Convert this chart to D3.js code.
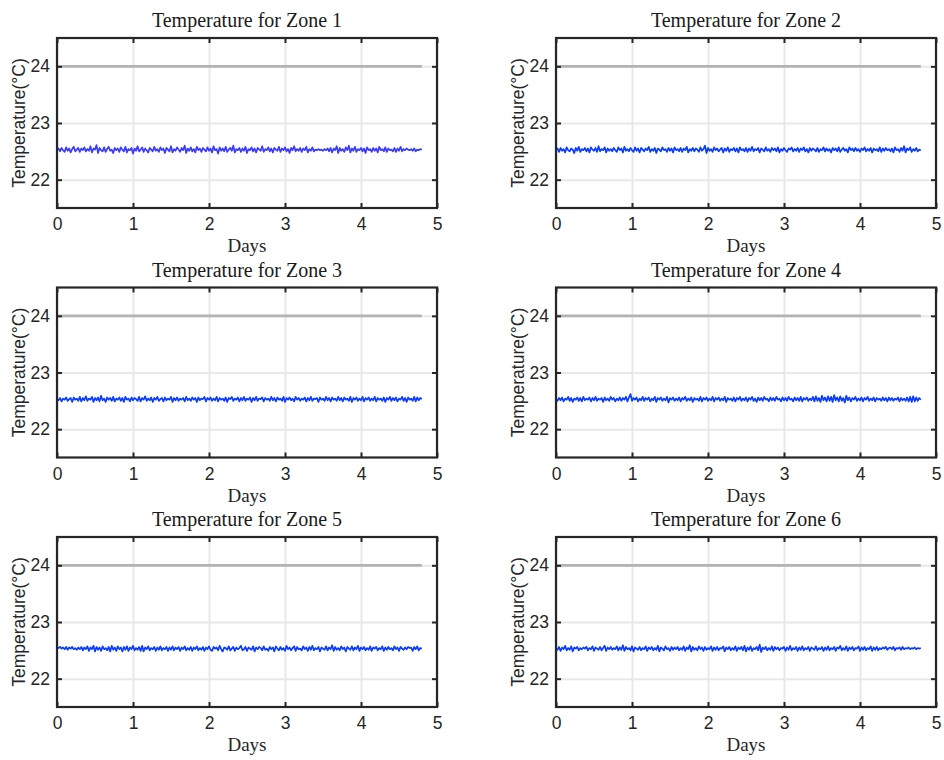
<!DOCTYPE html>
<html>
<head>
<meta charset="utf-8">
<script src="https://cdn.jsdelivr.net/npm/d3@7"></script>
<style>
html,body{margin:0;padding:0;background:#fff;}
svg{display:block;}
</style>
</head>
<body>
<svg id="chart" width="944" height="760"></svg>
<script>
// ---------- data ----------
const zoneNames = ["Zone 1","Zone 2","Zone 3","Zone 4","Zone 5","Zone 6"];
const xTicks = [0,1,2,3,4,5];
const yTicks = [22,23,24];
const setpoint = 24;
const dayStep = 0.02; // sampling interval (days) of the recorded series
const lastDay = 4.8;

const zone1 = [
22.53,22.55,22.50,22.56,22.52,22.49,22.57,22.51,22.55,22.48,22.54,22.58,22.50,22.53,22.56,22.49,22.55,22.52,22.57,22.50,
22.54,22.51,22.59,22.48,22.55,22.53,22.61,22.47,22.56,22.52,22.50,22.57,22.49,22.54,22.58,22.51,22.53,22.47,22.56,22.52,
22.55,22.49,22.57,22.53,22.50,22.58,22.48,22.54,22.52,22.56,22.46,22.55,22.51,22.59,22.50,22.53,22.57,22.49,22.55,22.52,
22.48,22.56,22.53,22.50,22.58,22.51,22.54,22.49,22.57,22.52,22.55,22.47,22.56,22.53,22.50,22.59,22.48,22.54,22.51,22.57,
22.53,22.49,22.56,22.52,22.60,22.47,22.55,22.51,22.57,22.50,22.54,22.48,22.58,22.52,22.55,22.49,22.56,22.53,22.50,22.57,
22.51,22.55,22.48,22.59,22.52,22.54,22.46,22.57,22.51,22.55,22.50,22.58,22.49,22.53,22.56,22.51,22.60,22.48,22.54,22.52,
22.56,22.49,22.55,22.51,22.58,22.47,22.54,22.52,22.57,22.50,22.55,22.48,22.56,22.53,22.51,22.59,22.49,22.54,22.52,22.57,
22.50,22.55,22.48,22.56,22.53,22.51,22.58,22.49,22.55,22.52,22.57,22.50,22.54,22.47,22.56,22.52,22.59,22.50,22.54,22.51,
22.56,22.49,22.55,22.52,22.58,22.48,22.54,22.51,22.57,22.50,22.53,22.52,22.54,22.52,22.53,22.51,22.54,22.52,22.55,22.50,
22.56,22.48,22.55,22.52,22.59,22.47,22.56,22.51,22.54,22.49,22.57,22.52,22.60,22.48,22.55,22.51,22.58,22.49,22.54,22.52,
22.56,22.50,22.55,22.47,22.57,22.52,22.54,22.49,22.56,22.51,22.55,22.48,22.58,22.52,22.54,22.50,22.57,22.49,22.55,22.52,
22.53,22.50,22.56,22.49,22.55,22.51,22.58,22.50,22.54,22.52,22.55,22.53,22.52,22.54,22.51,22.55,22.50,22.53,22.52,22.54,
22.53];

const zone2 = [
22.52,22.55,22.49,22.56,22.51,22.54,22.48,22.57,22.52,22.50,22.55,22.53,22.47,22.56,22.51,22.58,22.49,22.54,22.52,22.56,
22.50,22.55,22.48,22.57,22.53,22.51,22.56,22.49,22.59,22.50,22.54,22.52,22.57,22.48,22.55,22.51,22.54,22.50,22.56,22.52,
22.49,22.57,22.52,22.55,22.48,22.58,22.51,22.54,22.50,22.56,22.52,22.49,22.57,22.51,22.55,22.48,22.56,22.53,22.50,22.55,
22.52,22.58,22.49,22.54,22.51,22.56,22.47,22.55,22.53,22.50,22.57,22.52,22.54,22.49,22.56,22.51,22.55,22.48,22.57,22.52,
22.54,22.50,22.56,22.49,22.55,22.52,22.58,22.48,22.54,22.51,22.56,22.50,22.55,22.53,22.49,22.57,22.51,22.54,22.60,22.47,
22.56,22.51,22.54,22.49,22.57,22.52,22.55,22.50,22.53,22.56,22.48,22.55,22.51,22.57,22.49,22.54,22.52,22.56,22.50,22.55,
22.48,22.57,22.52,22.54,22.50,22.56,22.49,22.55,22.51,22.58,22.50,22.54,22.52,22.56,22.48,22.55,22.53,22.50,22.57,22.51,
22.54,22.49,22.56,22.52,22.55,22.50,22.57,22.48,22.54,22.51,22.56,22.52,22.49,22.55,22.53,22.57,22.50,22.54,22.51,22.56,
22.49,22.55,22.52,22.57,22.50,22.54,22.48,22.56,22.51,22.55,22.53,22.50,22.56,22.49,22.54,22.52,22.57,22.50,22.55,22.51,
22.54,22.48,22.56,22.52,22.55,22.50,22.57,22.49,22.53,22.56,22.51,22.54,22.48,22.57,22.52,22.55,22.50,22.56,22.51,22.54,
22.49,22.55,22.52,22.57,22.50,22.54,22.51,22.56,22.48,22.55,22.52,22.54,22.50,22.57,22.49,22.55,22.51,22.56,22.52,22.54,
22.50,22.55,22.48,22.57,22.52,22.54,22.49,22.56,22.51,22.59,22.48,22.55,22.52,22.57,22.49,22.54,22.51,22.56,22.50,22.53,
22.52];

const zone3 = [
22.53,22.51,22.55,22.49,22.54,22.52,22.56,22.50,22.53,22.55,22.48,22.56,22.52,22.54,22.50,22.57,22.49,22.55,22.51,22.58,
22.50,22.54,22.52,22.57,22.48,22.55,22.51,22.56,22.49,22.59,22.51,22.54,22.48,22.56,22.52,22.55,22.50,22.57,22.49,22.54,
22.52,22.56,22.50,22.55,22.48,22.57,22.52,22.54,22.49,22.56,22.51,22.55,22.53,22.50,22.57,22.49,22.55,22.52,22.58,22.50,
22.54,22.51,22.56,22.48,22.55,22.52,22.57,22.50,22.53,22.55,22.49,22.56,22.51,22.54,22.52,22.57,22.48,22.55,22.51,22.56,
22.50,22.54,22.52,22.55,22.49,22.57,22.51,22.54,22.50,22.56,22.52,22.55,22.48,22.56,22.51,22.54,22.53,22.57,22.49,22.55,
22.52,22.56,22.50,22.54,22.51,22.57,22.49,22.55,22.52,22.54,22.50,22.56,22.48,22.55,22.53,22.57,22.50,22.54,22.52,22.56,
22.49,22.55,22.51,22.57,22.50,22.54,22.52,22.56,22.48,22.55,22.51,22.57,22.50,22.54,22.53,22.56,22.49,22.55,22.52,22.54,
22.50,22.57,22.51,22.55,22.49,22.56,22.52,22.54,22.50,22.57,22.48,22.55,22.52,22.56,22.51,22.54,22.49,22.57,22.52,22.55,
22.50,22.54,22.52,22.56,22.49,22.55,22.51,22.57,22.50,22.54,22.53,22.55,22.48,22.56,22.52,22.54,22.50,22.57,22.51,22.55,
22.49,22.56,22.52,22.54,22.50,22.57,22.51,22.55,22.49,22.56,22.52,22.54,22.50,22.57,22.48,22.55,22.52,22.56,22.50,22.54,
22.51,22.57,22.49,22.55,22.52,22.56,22.50,22.54,22.51,22.57,22.49,22.55,22.52,22.54,22.50,22.56,22.48,22.55,22.52,22.57,
22.50,22.55,22.51,22.56,22.49,22.54,22.52,22.57,22.50,22.55,22.48,22.56,22.52,22.54,22.50,22.57,22.49,22.56,22.51,22.55,
22.53];

const zone4 = [
22.53,22.50,22.55,22.51,22.56,22.49,22.54,22.52,22.57,22.50,22.55,22.48,22.54,22.52,22.56,22.50,22.55,22.49,22.57,22.51,
22.54,22.52,22.56,22.49,22.55,22.51,22.57,22.50,22.54,22.52,22.55,22.48,22.56,22.51,22.54,22.50,22.57,22.52,22.55,22.49,
22.54,22.51,22.56,22.50,22.55,22.52,22.57,22.49,22.56,22.62,22.50,22.55,22.52,22.56,22.49,22.54,22.51,22.57,22.50,22.55,
22.52,22.56,22.49,22.54,22.51,22.57,22.48,22.55,22.52,22.56,22.50,22.54,22.51,22.57,22.47,22.55,22.52,22.56,22.50,22.54,
22.51,22.56,22.49,22.55,22.52,22.57,22.50,22.54,22.51,22.56,22.48,22.55,22.52,22.54,22.50,22.57,22.49,22.55,22.52,22.56,
22.50,22.54,22.51,22.57,22.49,22.55,22.52,22.56,22.50,22.54,22.51,22.57,22.48,22.55,22.52,22.54,22.50,22.56,22.49,22.55,
22.52,22.57,22.50,22.54,22.51,22.56,22.49,22.55,22.52,22.57,22.50,22.54,22.48,22.56,22.51,22.55,22.50,22.57,22.52,22.54,
22.49,22.56,22.51,22.55,22.50,22.57,22.52,22.54,22.49,22.56,22.51,22.55,22.50,22.57,22.52,22.54,22.49,22.56,22.51,22.55,
22.50,22.57,22.49,22.55,22.52,22.56,22.50,22.54,22.51,22.57,22.49,22.58,22.50,22.55,22.48,22.59,22.51,22.56,22.49,22.58,
22.50,22.57,22.48,22.60,22.51,22.56,22.49,22.58,22.50,22.55,22.47,22.59,22.51,22.56,22.49,22.55,22.52,22.57,22.50,22.54,
22.51,22.56,22.49,22.55,22.52,22.57,22.50,22.54,22.51,22.56,22.49,22.55,22.52,22.54,22.50,22.56,22.51,22.55,22.49,22.56,
22.51,22.55,22.50,22.54,22.52,22.56,22.49,22.55,22.51,22.54,22.50,22.56,22.49,22.57,22.48,22.58,22.49,22.56,22.50,22.55,
22.52];

const zone5 = [
22.55,22.54,22.56,22.53,22.55,22.52,22.56,22.51,22.55,22.53,22.56,22.52,22.54,22.51,22.55,22.52,22.56,22.50,22.55,22.52,
22.57,22.49,22.55,22.52,22.58,22.48,22.56,22.51,22.55,22.49,22.57,22.52,22.54,22.50,22.56,22.48,22.58,22.51,22.55,22.49,
22.57,22.52,22.55,22.48,22.56,22.51,22.57,22.49,22.55,22.52,22.58,22.50,22.54,22.51,22.56,22.49,22.58,22.48,22.55,22.52,
22.57,22.50,22.54,22.52,22.56,22.49,22.55,22.51,22.57,22.50,22.54,22.52,22.56,22.49,22.55,22.51,22.57,22.50,22.55,22.52,
22.56,22.49,22.55,22.52,22.57,22.50,22.54,22.51,22.56,22.49,22.55,22.52,22.57,22.50,22.54,22.51,22.56,22.49,22.55,22.52,
22.57,22.51,22.49,22.56,22.53,22.55,22.50,22.58,22.52,22.48,22.55,22.54,22.51,22.57,22.50,22.53,22.56,22.49,22.55,22.52,
22.54,22.58,22.50,22.52,22.56,22.49,22.55,22.53,22.51,22.57,22.48,22.55,22.52,22.56,22.54,22.50,22.57,22.51,22.53,22.49,
22.56,22.52,22.55,22.48,22.57,22.53,22.50,22.56,22.51,22.54,22.49,22.58,22.52,22.55,22.50,22.54,22.57,22.49,22.56,22.52,
22.53,22.50,22.57,22.52,22.55,22.49,22.56,22.51,22.58,22.50,22.54,22.52,22.56,22.48,22.55,22.53,22.51,22.57,22.50,22.55,
22.52,22.59,22.49,22.56,22.51,22.54,22.50,22.57,22.52,22.55,22.48,22.56,22.53,22.51,22.57,22.50,22.55,22.52,22.58,22.49,
22.55,22.52,22.56,22.50,22.54,22.51,22.57,22.49,22.55,22.53,22.56,22.50,22.54,22.52,22.57,22.49,22.55,22.51,22.56,22.52,
22.54,22.50,22.57,22.52,22.55,22.49,22.56,22.53,22.51,22.55,22.52,22.56,22.54,22.55,22.49,22.56,22.52,22.57,22.50,22.54,
22.53];

const zone6 = [
22.53,22.51,22.56,22.49,22.55,22.52,22.58,22.50,22.54,22.51,22.57,22.48,22.55,22.53,22.56,22.50,22.54,22.52,22.55,22.53,
22.56,22.50,22.54,22.52,22.57,22.49,22.55,22.53,22.51,22.56,22.50,22.54,22.58,22.49,22.55,22.52,22.56,22.51,22.54,22.52,
22.57,22.50,22.55,22.51,22.59,22.49,22.56,22.52,22.54,22.50,22.57,22.48,22.55,22.53,22.51,22.56,22.50,22.54,22.52,22.57,
22.49,22.55,22.52,22.56,22.50,22.54,22.51,22.58,22.48,22.55,22.53,22.50,22.57,22.52,22.54,22.49,22.56,22.51,22.55,22.52,
22.56,22.50,22.54,22.51,22.57,22.49,22.55,22.52,22.59,22.48,22.56,22.51,22.54,22.50,22.57,22.52,22.55,22.49,22.56,22.51,
22.54,22.52,22.57,22.49,22.55,22.51,22.56,22.50,22.54,22.53,22.57,22.48,22.55,22.52,22.56,22.50,22.54,22.51,22.57,22.49,
22.55,22.52,22.56,22.50,22.58,22.48,22.55,22.51,22.57,22.49,22.54,22.52,22.56,22.50,22.60,22.47,22.55,22.52,22.56,22.50,
22.54,22.51,22.57,22.49,22.56,22.52,22.55,22.50,22.54,22.53,22.56,22.49,22.55,22.51,22.58,22.50,22.54,22.52,22.56,22.49,
22.55,22.51,22.57,22.50,22.54,22.52,22.56,22.49,22.55,22.53,22.51,22.57,22.50,22.54,22.52,22.56,22.49,22.55,22.51,22.57,
22.50,22.54,22.52,22.56,22.49,22.55,22.53,22.58,22.50,22.54,22.51,22.57,22.49,22.55,22.52,22.56,22.50,22.54,22.53,22.57,
22.49,22.55,22.51,22.56,22.50,22.54,22.52,22.57,22.49,22.55,22.51,22.56,22.50,22.54,22.52,22.55,22.53,22.56,22.51,22.54,
22.55,22.52,22.56,22.50,22.54,22.53,22.55,22.51,22.56,22.52,22.54,22.53,22.55,22.52,22.54,22.53,22.55,22.52,22.54,22.53,
22.54];

const zoneSeries = [zone1, zone2, zone3, zone4, zone5, zone6];
const lineColors = ["#3a3aff","#0a3cff","#0a3cff","#0a3cff","#0a3cff","#0a3cff"];

// ---------- layout ----------
const svg = d3.select("#chart");
const W = 380, H = 170;
const colX = [57, 556];
const rowY = [38, 287.5, 537];
const frameColor = "#262626";

const x = d3.scaleLinear().domain([0,5]).range([0,W]);
const y = d3.scaleLinear().domain([21.5,24.5]).range([H,0]);

zoneSeries.forEach((vals, i) => {
  const gx = colX[i % 2], gy = rowY[Math.floor(i / 2)];
  const g = svg.append("g").attr("transform", `translate(${gx},${gy})`);

  // grid
  const gridX = g.append("g").attr("transform", `translate(0,${H})`)
    .call(d3.axisBottom(x).tickValues(xTicks).tickSize(-H).tickFormat(""));
  const gridY = g.append("g")
    .call(d3.axisLeft(y).tickValues(yTicks).tickSize(-W).tickFormat(""));
  [gridX, gridY].forEach(a => {
    a.select(".domain").remove();
    a.selectAll("line").attr("stroke", "#e8e8e8").attr("stroke-width", 2);
  });

  // setpoint
  g.append("line")
    .attr("x1", x(0)).attr("x2", x(lastDay))
    .attr("y1", y(setpoint)).attr("y2", y(setpoint))
    .attr("stroke", "#b3b3b3").attr("stroke-width", 2.6);

  // temperature series
  const line = d3.line().x((d, k) => x(k * dayStep)).y(d => y(d));
  g.append("path").datum(vals)
    .attr("d", line)
    .attr("fill", "none")
    .attr("stroke", lineColors[i])
    .attr("stroke-width", 1.7)
    .attr("stroke-linejoin", "round");

  // axes with inward ticks
  const tk = 5;
  const axB = g.append("g").attr("transform", `translate(0,${H})`)
    .call(d3.axisBottom(x).tickValues(xTicks).tickSizeInner(-tk).tickSizeOuter(0).tickPadding(10).tickFormat(d3.format("d")));
  const axT = g.append("g")
    .call(d3.axisTop(x).tickValues(xTicks).tickSizeInner(-tk).tickSizeOuter(0).tickFormat(""));
  const axL = g.append("g")
    .call(d3.axisLeft(y).tickValues(yTicks).tickSizeInner(-tk).tickSizeOuter(0).tickPadding(7).tickFormat(d3.format("d")));
  const axR = g.append("g").attr("transform", `translate(${W},0)`)
    .call(d3.axisRight(y).tickValues(yTicks).tickSizeInner(-tk).tickSizeOuter(0).tickFormat(""));
  [axB, axT, axL, axR].forEach(a => {
    a.select(".domain").remove();
    a.selectAll("line").attr("stroke", frameColor).attr("stroke-width", 2);
    a.selectAll("text")
      .attr("fill", "#262626")
      .style("font-family", "'Liberation Sans', Arial, sans-serif")
      .style("font-size", "17.5px");
  });

  // frame
  g.append("rect").attr("x", 0).attr("y", 0).attr("width", W).attr("height", H)
    .attr("fill", "none").attr("stroke", frameColor).attr("stroke-width", 2.2);

  // title
  g.append("text")
    .attr("x", W / 2).attr("y", -11)
    .attr("text-anchor", "middle")
    .attr("fill", "#1a1a1a")
    .style("font-family", "'Liberation Serif', 'Times New Roman', serif")
    .style("font-size", "20px")
    .text("Temperature for " + zoneNames[i]);

  // x label
  g.append("text")
    .attr("x", W / 2).attr("y", H + 44)
    .attr("text-anchor", "middle")
    .attr("fill", "#262626")
    .style("font-family", "'Liberation Serif', 'Times New Roman', serif")
    .style("font-size", "19px")
    .text("Days");

  // y label
  g.append("text")
    .attr("transform", `translate(-32,${H / 2}) rotate(-90)`)
    .attr("text-anchor", "middle")
    .attr("fill", "#262626")
    .style("font-family", "'Liberation Sans', Arial, sans-serif")
    .style("font-size", "17.5px")
    .text("Temperature(°C)");
});
</script>
</body>
</html>
